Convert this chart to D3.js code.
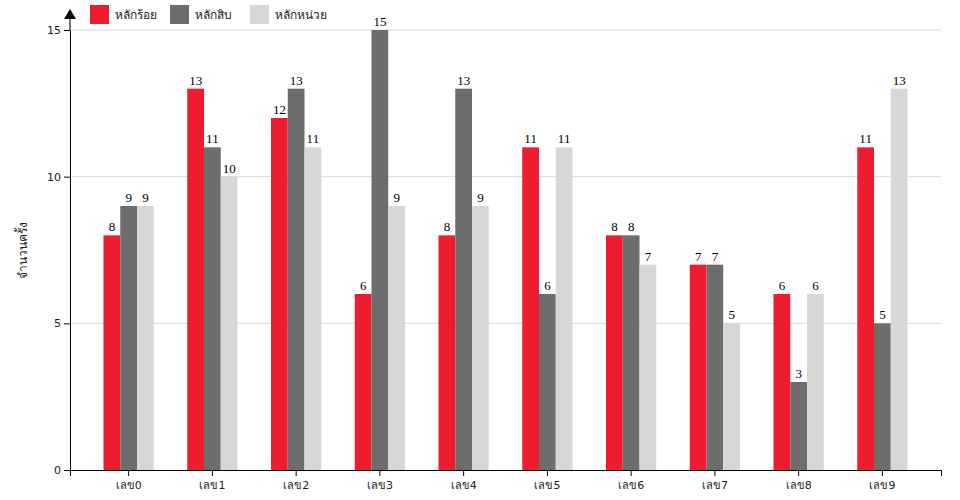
<!DOCTYPE html>
<html>
<head>
<meta charset="utf-8">
<script src="https://cdn.jsdelivr.net/npm/d3@7"></script>
<style>
body { margin: 0; background: #fff; }
</style>
</head>
<body>
<script>
(function(){
//data
var categories = ["เลข0", "เลข1", "เลข2", "เลข3", "เลข4", "เลข5", "เลข6", "เลข7", "เลข8", "เลข9"];
var seriesNames = ["หลักร้อย", "หลักสิบ", "หลักหน่วย"];
var hundreds = [8, 13, 12, 6, 8, 11, 8, 7, 6, 11];
var tens = [9, 11, 13, 15, 13, 6, 8, 7, 3, 5];
var units = [9, 10, 11, 9, 9, 11, 7, 5, 6, 13];
var yTicks = [0, 5, 10, 15];
var colors = ["#ed1c2e", "#6d6d6d", "#d7d7d7"];

var allSeries = [hundreds, tens, units];

var width = 960, height = 500;

var svg = d3.select("body")
    .append("svg")
    .attr("width", width)
    .attr("height", height);

//scales
var x = d3.scaleBand()
    .domain(categories)
    .range([70, 941])
    .paddingInner(0)
    .paddingOuter(0.2);

var xInner = d3.scaleBand()
    .domain(seriesNames)
    .range([0, x.bandwidth() * 0.6]);

var y = d3.scaleLinear()
    .domain([0, 15])
    .range([470, 30]);

//gridlines
svg.append("g")
    .selectAll("line")
    .data(yTicks.slice(1))
    .enter()
    .append("line")
    .attr("x1", 70)
    .attr("x2", 941)
    .attr("y1", function(d){ return y(d); })
    .attr("y2", function(d){ return y(d); })
    .attr("stroke", "#d9d9d9")
    .attr("stroke-width", 1);

//bars
var groups = svg.selectAll(".grp")
    .data(categories)
    .enter()
    .append("g")
    .attr("class", "grp")
    .attr("transform", function(d){
        return "translate(" + (x(d) + x.bandwidth() * 0.2) + ",0)";
    });

function groupData(d, i){
    return seriesNames.map(function(s, j){ return {s: s, j: j, v: allSeries[j][i]}; });
}

groups.selectAll("rect")
    .data(groupData)
    .enter()
    .append("rect")
    .attr("x", function(d){ return xInner(d.s); })
    .attr("width", xInner.bandwidth())
    .attr("y", function(d){ return y(d.v); })
    .attr("height", function(d){ return y(0) - y(d.v); })
    .attr("fill", function(d){ return colors[d.j]; });

groups.selectAll(".valLabel")
    .data(groupData)
    .enter()
    .append("text")
    .attr("class", "valLabel")
    .attr("x", function(d){ return xInner(d.s) + xInner.bandwidth() / 2; })
    .attr("y", function(d){ return y(d.v) - 4; })
    .attr("text-anchor", "middle")
    .style("font-family", "'Liberation Serif', 'DejaVu Serif', serif")
    .style("font-size", "13px")
    .style("fill", "#000")
    .text(function(d){ return d.v; });

//axes
var xAxis = svg.append("g")
    .attr("transform", "translate(0,470)")
    .call(d3.axisBottom(x).tickSizeOuter(6));
xAxis.selectAll("text")
    .style("font-family", "'DejaVu Sans', sans-serif")
    .style("font-size", "11px")
    .attr("fill", "#222")
    .attr("dy", "0.9em");
xAxis.select(".domain").attr("stroke", "#000");

var yAxis = svg.append("g")
    .attr("transform", "translate(70,0)")
    .call(d3.axisLeft(y).tickValues(yTicks).tickSizeOuter(0));
yAxis.selectAll("text")
    .style("font-family", "'DejaVu Sans', sans-serif")
    .style("font-size", "11px")
    .attr("fill", "#222");
yAxis.select(".domain").attr("stroke", "#000");

//axis extension and arrow
svg.append("line")
    .attr("x1", 70).attr("x2", 70)
    .attr("y1", 30).attr("y2", 17)
    .attr("stroke", "#777")
    .attr("stroke-width", 2);
svg.append("path")
    .attr("d", "M64,19 L76,19 L70,9 Z")
    .attr("fill", "#000");

//y label
svg.append("text")
    .attr("transform", "translate(27,250) rotate(-90)")
    .attr("text-anchor", "middle")
    .style("font-family", "'Noto Sans', sans-serif")
    .style("font-size", "12px")
    .attr("fill", "#222")
    .text("จำนวนครั้ง");

//legend
var legendX = [90, 170, 250];
var legend = svg.selectAll(".legend")
    .data(seriesNames)
    .enter()
    .append("g")
    .attr("class", "legend")
    .attr("transform", function(d, i){ return "translate(" + legendX[i] + ",5)"; });
legend.append("rect")
    .attr("width", 19)
    .attr("height", 19)
    .attr("fill", function(d, i){ return colors[i]; });
legend.append("text")
    .attr("x", 25)
    .attr("y", 14)
    .style("font-family", "'Noto Sans', sans-serif")
    .style("font-size", "12px")
    .attr("fill", "#222")
    .text(function(d){ return d; });
})();
</script>
</body>
</html>
